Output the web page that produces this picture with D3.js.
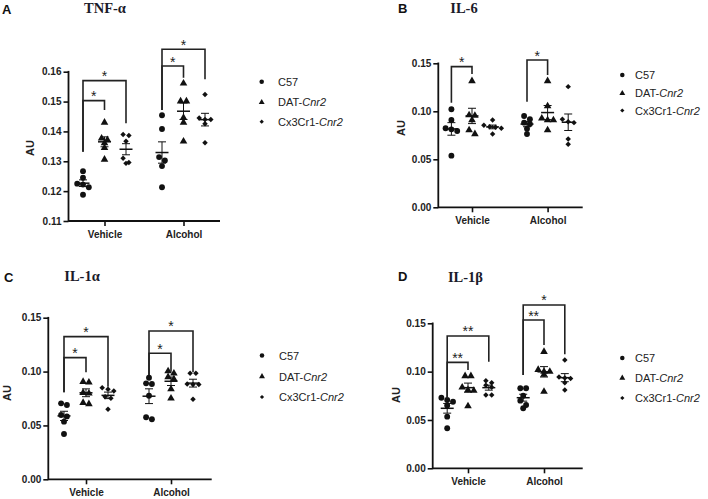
<!DOCTYPE html>
<html><head><meta charset="utf-8">
<script src="https://cdn.jsdelivr.net/npm/d3@7"></script>
<style>body{margin:0;background:#fff}svg{display:block}</style>
</head><body>
<svg id="c" width="708" height="499"></svg>
<script>
// ---------- data ----------
const groups = ["Vehicle", "Alcohol"];
const seriesNames = ["C57", "DAT-Cnr2", "Cx3Cr1-Cnr2"];

// each array: [Vehicle values, Alcohol values]
const tnfC57 = [[0.1267, 0.1245, 0.1225, 0.1222, 0.1213, 0.1188], [0.1454, 0.1408, 0.1314, 0.1303, 0.1284, 0.1213]];
const tnfDAT = [[0.1430, 0.1377, 0.1372, 0.1361, 0.1345, 0.1306], [0.1561, 0.1501, 0.1501, 0.1446, 0.1430, 0.1367]];
const tnfCx3 = [[0.1390, 0.1386, 0.1367, 0.1310, 0.1296, 0.1293], [0.1524, 0.1445, 0.1440, 0.1440, 0.1426, 0.1362]];

const il6C57 = [[0.1021, 0.0909, 0.0823, 0.0812, 0.0795, 0.0538], [0.0951, 0.0917, 0.0882, 0.0868, 0.0819, 0.0764]];
const il6DAT = [[0.1316, 0.0961, 0.0955, 0.0909, 0.0805, 0.0764], [0.1316, 0.1055, 0.0927, 0.0909, 0.0909, 0.0805]];
const il6Cx3 = [[0.0909, 0.0854, 0.0840, 0.0833, 0.0823, 0.0764], [0.1257, 0.0917, 0.0892, 0.0882, 0.0712, 0.0656]];

const il1aC57 = [[0.0705, 0.0690, 0.0597, 0.0584, 0.0535, 0.0420], [0.0943, 0.0891, 0.0885, 0.0776, 0.0576, 0.0557]];
const il1aDAT = [[0.0906, 0.0900, 0.0804, 0.0798, 0.0711, 0.0699], [0.1005, 0.0984, 0.0950, 0.0930, 0.0838, 0.0752]];
const il1aCx3 = [[0.0850, 0.0836, 0.0820, 0.0767, 0.0752, 0.0650], [0.0984, 0.0984, 0.0885, 0.0880, 0.0880, 0.0743]];

const il1bC57 = [[0.0730, 0.0707, 0.0689, 0.0650, 0.0534, 0.0414], [0.0828, 0.0828, 0.0750, 0.0700, 0.0655, 0.0621]];
const il1bDAT = [[0.0955, 0.0955, 0.0838, 0.0810, 0.0803, 0.0644], [0.1206, 0.1020, 0.1000, 0.1000, 0.0970, 0.0793]];
const il1bCx3 = [[0.0906, 0.0886, 0.0860, 0.0838, 0.0758, 0.0758], [0.1120, 0.0945, 0.0935, 0.0930, 0.0886, 0.0810]];

// brackets: [group, fromSeries, toSeries, topValue, leftLegBottom, rightLegBottom, label]
const tnfBrackets = [[0,0,1,0.1503,0.1332,0.1472,"*"],[0,0,2,0.1570,0.1332,0.1427,"*"],
                     [1,0,1,0.1619,0.1472,0.1580,"*"],[1,0,2,0.1675,0.1472,0.1575,"*"]];
const il6Brackets = [[0,0,1,0.1465,0.1090,0.1389,"*"],[1,0,1,0.1534,0.1100,0.1378,"*"]];
const il1aBrackets = [[0,0,1,0.1129,0.0808,0.0993,"*"],[0,0,2,0.1324,0.0808,0.0860,"*"],
                      [1,0,1,0.1170,0.0968,0.0999,"*"],[1,0,2,0.1377,0.0968,0.0993,"*"]];
const il1bBrackets = [[0,0,1,0.1096,0.0724,0.1017,"**"],[0,0,2,0.1369,0.0724,0.1103,"**"],
                      [1,0,1,0.1534,0.0965,0.1276,"**"],[1,0,2,0.1690,0.0965,0.1179,"*"]];

const tnfTicks = [0.11, 0.12, 0.13, 0.14, 0.15, 0.16];
const ilTicks = [0.00, 0.05, 0.10, 0.15];

// ---------- layout ----------
const panels = [
  {letter:"A", title:"TNF-α", series:[tnfC57,tnfDAT,tnfCx3], brackets:tnfBrackets, ticks:tnfTicks, domain:[0.11,0.16],
   x0:68.5, x1:220, yTop:71.7, yBot:221, gx:[104.5,183.5], sp:21.5,
   letterPos:[2,14], titlePos:[105,13], auPos:[29.5,148], legend:{mx:261.7, tx:278, y:[81.7,102.3,121.7]}},
  {letter:"B", title:"IL-6", series:[il6C57,il6DAT,il6Cx3], brackets:il6Brackets, ticks:ilTicks, domain:[0,0.15],
   x0:438.3, x1:582.7, yTop:63.3, yBot:207.3, gx:[472,547.6], sp:20.6,
   letterPos:[398,13], titlePos:[464,13], auPos:[401,128], legend:{mx:622.3, tx:635, y:[75,93.3,110.5]}},
  {letter:"C", title:"IL-1α", series:[il1aC57,il1aDAT,il1aCx3], brackets:il1aBrackets, ticks:ilTicks, domain:[0,0.15],
   x0:48.3, x1:211.7, yTop:317.7, yBot:479.3, gx:[86,171], sp:22,
   letterPos:[4,282], titlePos:[82,281], auPos:[7,393], legend:{mx:262, tx:279, y:[355.5,376.5,397]}},
  {letter:"D", title:"IL-1β", series:[il1bC57,il1bDAT,il1bCx3], brackets:il1bBrackets, ticks:ilTicks, domain:[0,0.15],
   x0:432.7, x1:582.7, yTop:323.3, yBot:468.3, gx:[468,544], sp:20.8,
   letterPos:[398,281], titlePos:[465.5,281.5], auPos:[396,395], legend:{mx:622.3, tx:635, y:[358,378,398]}}
];

const svg = d3.select("#c");
const SANS = "'Liberation Sans', Arial, sans-serif";
const SERIF = "'Liberation Serif', 'Times New Roman', serif";
const INK = "#111";

function markerPath(k, scale) {
  if (k === 0) return d3.symbol(d3.symbolCircle, 27 * scale)();
  if (k === 1) return d3.symbol(d3.symbolTriangle, 25 * scale)();
  return d3.symbol(d3.symbolSquare, 15 * scale)();
}
function markerTransform(k, x, y) {
  return k === 2 ? `translate(${x},${y}) rotate(45)` : `translate(${x},${y})`;
}

// Prism-like row layout for scatter points
function layoutPoints(values, y, spacing, dmin) {
  const pts = values.map(v => ({v, py: y(v)})).sort((a, b) => a.py - b.py);
  const rows = [];
  pts.forEach(p => {
    const r = rows[rows.length - 1];
    if (r && p.py - r[0].py < dmin) r.push(p); else rows.push([p]);
  });
  rows.forEach(r => r.forEach((p, i) => p.dx = (i - (r.length - 1) / 2) * spacing));
  return pts;
}

panels.forEach(P => {
  const g = svg.append("g");
  const y = d3.scaleLinear().domain(P.domain).range([P.yBot, P.yTop]);
  const xg = d3.scalePoint().domain(groups).range(P.gx);
  const xs = d3.scalePoint().domain(seriesNames).range([-P.sp, P.sp]);
  const sx = (gi, si) => xg(groups[gi]) + xs(seriesNames[si]);

  // panel letter & title
  g.append("text").attr("x", P.letterPos[0]).attr("y", P.letterPos[1]).text(P.letter)
    .attr("font-family", SANS).attr("font-weight", "bold").attr("font-size", 13).attr("fill", INK);
  g.append("text").attr("x", P.titlePos[0]).attr("y", P.titlePos[1]).text(P.title)
    .attr("text-anchor", "middle").attr("font-family", SERIF).attr("font-weight", "bold")
    .attr("font-size", 14.5).attr("fill", "#1b1b2a");

  // y axis
  const ya = g.append("g").attr("transform", `translate(${P.x0},0)`)
    .call(d3.axisLeft(y).tickValues(P.ticks).tickFormat(d3.format(".2f")).tickSize(5).tickSizeOuter(0).tickPadding(2));
  ya.select(".domain").remove();
  ya.selectAll(".tick line").attr("stroke", INK).attr("stroke-width", 1.6);
  ya.selectAll(".tick text").attr("font-family", SANS).attr("font-weight", "bold").attr("font-size", 10).attr("fill", "#222");
  g.append("line").attr("x1", P.x0).attr("x2", P.x0).attr("y1", y(P.domain[1]) - 0.8).attr("y2", P.yBot + 0.8)
    .attr("stroke", INK).attr("stroke-width", 1.8);

  // x axis
  const xa = g.append("g").attr("transform", `translate(0,${P.yBot})`)
    .call(d3.axisBottom(xg).tickSize(5).tickSizeOuter(0).tickPadding(5));
  xa.select(".domain").remove();
  xa.selectAll(".tick line").attr("stroke", INK).attr("stroke-width", 1.6);
  xa.selectAll(".tick text").attr("font-family", SANS).attr("font-weight", "bold").attr("font-size", 10).attr("fill", "#222");
  g.append("line").attr("x1", P.x0).attr("x2", P.x1).attr("y1", P.yBot).attr("y2", P.yBot)
    .attr("stroke", INK).attr("stroke-width", 1.8);

  // AU label
  g.append("text").attr("transform", `translate(${P.auPos[0]},${P.auPos[1]}) rotate(-90)`)
    .attr("text-anchor", "middle").attr("dominant-baseline", "central").text("AU")
    .attr("font-family", SANS).attr("font-weight", "bold").attr("font-size", 11).attr("fill", "#222");

  // points, mean, SEM
  P.series.forEach((ser, si) => {
    ser.forEach((vals, gi) => {
      const cx = sx(gi, si);
      const pts = layoutPoints(vals, y, 5.8, 4.4);
      g.append("g").selectAll("path").data(pts).join("path")
        .attr("d", markerPath(si, 1)).attr("transform", d => markerTransform(si, cx + d.dx, d.py)).attr("fill", INK);
      const m = d3.mean(vals), sem = d3.deviation(vals) / Math.sqrt(vals.length);
      const eb = g.append("g").attr("stroke", INK).attr("fill", "none");
      eb.append("line").attr("x1", cx - 6.5).attr("x2", cx + 6.5).attr("y1", y(m)).attr("y2", y(m)).attr("stroke-width", 1.5);
      eb.append("line").attr("x1", cx).attr("x2", cx).attr("y1", y(m - sem)).attr("y2", y(m + sem)).attr("stroke-width", 1);
      [m - sem, m + sem].forEach(v => eb.append("line").attr("x1", cx - 4).attr("x2", cx + 4)
        .attr("y1", y(v)).attr("y2", y(v)).attr("stroke-width", 1));
    });
  });

  // significance brackets
  P.brackets.forEach(b => {
    const [gi, a, c, top, lb, rb, lab] = b;
    const xl = sx(gi, a), xr = sx(gi, c);
    g.append("path").attr("d", `M${xl},${y(lb)}V${y(top)}H${xr}V${y(rb)}`)
      .attr("fill", "none").attr("stroke", "#222").attr("stroke-width", 1.6);
    g.append("text").attr("x", (xl + xr) / 2).attr("y", y(top) + 0.5).text(lab)
      .attr("text-anchor", "middle").attr("font-family", SANS).attr("font-size", 14).attr("fill", "#222");
  });

  // legend
  seriesNames.forEach((name, si) => {
    const ly = P.legend.y[si];
    g.append("path").attr("d", markerPath(si, 0.6)).attr("transform", markerTransform(si, P.legend.mx, ly)).attr("fill", INK);
    const t = g.append("text").attr("x", P.legend.tx).attr("y", ly).attr("dominant-baseline", "central")
      .attr("font-family", SANS).attr("font-size", 11).attr("fill", "#222");
    const parts = name.split("Cnr2");
    if (parts.length > 1) {
      t.append("tspan").text(parts[0]);
      t.append("tspan").attr("font-style", "italic").text("Cnr2");
    } else t.text(name);
  });
});
</script>
</body></html>
